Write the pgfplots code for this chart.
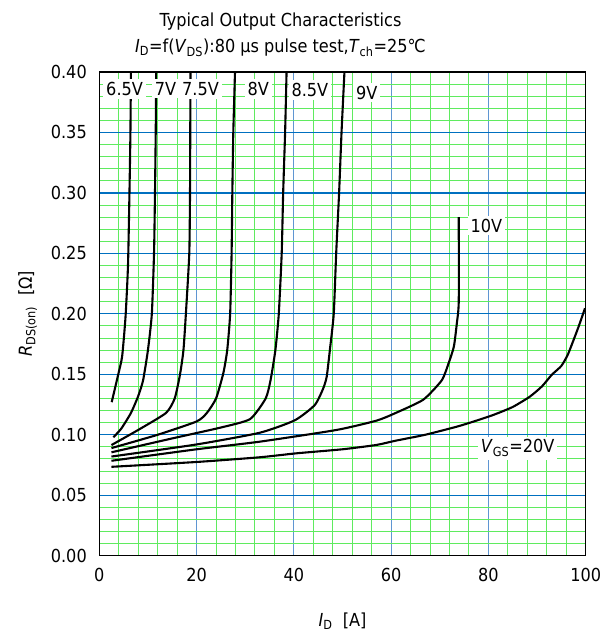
\documentclass[border=0pt]{standalone}
\usepackage{fontspec}
\setmainfont{DejaVu Sans}[FakeStretch=0.9]
\usepackage{pgfplots}
\pgfplotsset{compat=1.18}
\definecolor{majblue}{RGB}{0,112,192}
\definecolor{majvblue}{RGB}{95,150,210}
\definecolor{mingreen}{RGB}{95,235,95}
\newcommand{\fs}{\fontsize{18}{21}\selectfont}
\pgfplotsset{curve/.style={black, line width=2.1bp, smooth, tension=0.35, mark=none}}
\begin{document}
\begin{tikzpicture}
\begin{axis}[
  at={(0,0)}, anchor=south west,
  scale only axis, width=486.4bp, height=483.7bp,
  xmin=0, xmax=100, ymin=0, ymax=0.4,
  xtick={0,20,40,60,80,100},
  ytick={0,0.05,0.1,0.15,0.2,0.25,0.3,0.35,0.4},
  minor x tick num=4, minor y tick num=4,
  grid=both,
  major x grid style={majvblue, line width=1.1bp},
  major y grid style={majblue, line width=1.3bp},
  minor grid style={mingreen, line width=1bp},
  axis line style={black, line width=1.5bp},
  tick style={draw=none},
  /pgf/number format/assume math mode=true,
  yticklabel style={/pgf/number format/fixed, /pgf/number format/fixed zerofill, /pgf/number format/precision=2, xshift=-9bp},
  xticklabel style={/pgf/number format/fixed, /pgf/number format/precision=0, yshift=-9bp},
  ticklabel style={font=\fs},
  title={Typical Output Characteristics\\[5bp]\textit{I}\textsubscript{D}=f(\textit{V}\textsubscript{DS}):80 μs pulse test,\textit{T}\textsubscript{ch}=25℃},
  title style={align=center, font=\fs, yshift=6bp, xshift=-62bp},
  xlabel={\textit{I}\textsubscript{D}\ \ [A]},
  ylabel={\textit{R}\textsubscript{DS(on)}\ \ [Ω]},
  xlabel style={font=\fs, yshift=-24bp},
  ylabel style={font=\fs, yshift=7bp},
]
% 6.5V
\addplot[curve] coordinates {(2.55,0.127) (3.9,0.150) (4.7,0.165) (5.4,0.198) (5.9,0.240) (6.2,0.30) (6.4,0.35) (6.5,0.40)};
% 7V
\addplot[curve] coordinates {(2.9,0.098) (4.5,0.105) (6.5,0.118) (8.0,0.132) (9.0,0.145) (10.0,0.170) (10.8,0.200) (11.25,0.25) (11.45,0.30) (11.6,0.35) (11.7,0.40)};
% 7.5V
\addplot[curve] coordinates {(2.5,0.0915) (8,0.104) (13.7,0.118) (15.5,0.130) (16.6,0.150) (17.3,0.170) (17.8,0.200) (18.5,0.25) (18.65,0.30) (18.7,0.35) (18.75,0.40)};
% 8V
\addplot[curve] coordinates {(2.5,0.089) (12,0.100) (20,0.111) (22.1,0.118) (24.0,0.130) (25.5,0.151) (26.3,0.170) (26.9,0.200) (27.2,0.25) (27.35,0.30) (27.55,0.35) (27.9,0.40)};
% 8.5V
\addplot[curve] coordinates {(2.5,0.0855) (15,0.097) (25,0.106) (31,0.113) (34.2,0.130) (35.2,0.145) (36.2,0.170) (36.9,0.200) (37.5,0.25) (37.8,0.30) (38.2,0.35) (38.5,0.40)};
% 9V
\addplot[curve] coordinates {(2.5,0.082) (20,0.092) (33,0.1017) (40.2,0.112) (44.3,0.1246) (46.0,0.138) (46.75,0.148) (47.4,0.170) (48.2,0.200) (48.7,0.25) (49.3,0.30) (49.8,0.35) (50.4,0.40)};
% 10V
\addplot[curve] coordinates {(2.5,0.0785) (20,0.088) (33,0.0943) (48.8,0.104) (57,0.1117) (60.8,0.1178) (66.6,0.129) (70.4,0.145) (71.8,0.159) (72.9,0.173) (73.5,0.192) (73.9,0.21) (73.9,0.28)};
% 20V
\addplot[curve] coordinates {(2.5,0.0735) (20,0.0775) (33,0.0814) (40.6,0.0847) (50,0.088) (57,0.0916) (60.8,0.095) (67,0.100) (73.5,0.1067) (77,0.111) (81,0.1164) (85,0.123) (88.5,0.1315) (91,0.140) (93,0.1495) (95,0.157) (96.4,0.167) (98.5,0.189) (99.85,0.2046)};
\begin{scope}[every node/.style={fill=white, inner sep=3bp, font=\fs}]
\node at (axis cs:5.2,0.386) {6.5V};
\node at (axis cs:13.6,0.386) {7V};
\node at (axis cs:20.8,0.386) {7.5V};
\node at (axis cs:32.7,0.386) {8V};
\node at (axis cs:43.3,0.385) {8.5V};
\node at (axis cs:55.0,0.383) {9V};
\node at (axis cs:79.6,0.273) {10V};
\node at (axis cs:86.0,0.089) {\textit{V}\textsubscript{GS}=20V};
\end{scope}
\end{axis}
\pgfresetboundingbox
\path[use as bounding box] (-99.3bp,-77.3bp) rectangle (509.7bp,555.7bp);
\end{tikzpicture}
\end{document}
